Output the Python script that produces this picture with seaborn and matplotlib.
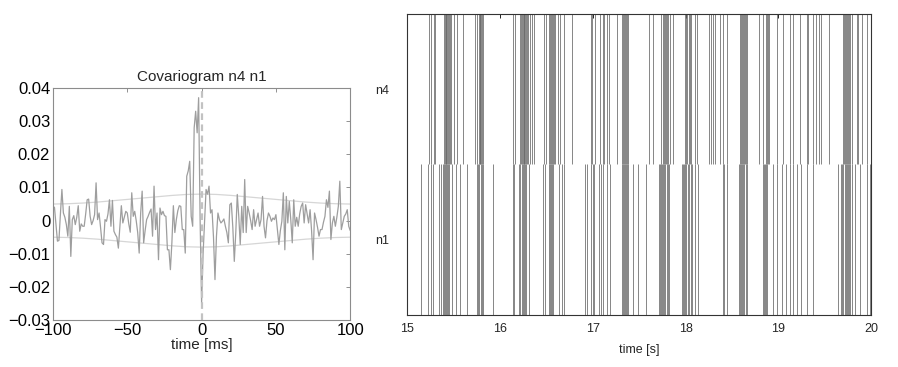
import numpy as np
import pandas as pd
import matplotlib
matplotlib.use("Agg")
import matplotlib.pyplot as plt
import seaborn as sns

# ---------------- data ----------------
lag_ms = list(range(-100, 101))
cov_values = [
    0.0043, 0.0040, -0.0010, -0.0062, -0.0060, 0.0020, 0.0094, 0.0023, 0.0010, -0.0012,
    -0.0047, 0.0043, -0.0108, 0.0003, 0.0015, -0.0012, 0.0010, 0.0045, -0.0032, -0.0010,
    -0.0017, -0.0017, 0.0020, 0.0063, 0.0065, 0.0013, -0.0012, 0.0000, 0.0018, 0.0114,
    0.0003, 0.0023, -0.0020, -0.0067, -0.0072, 0.0003, -0.0002, 0.0020, 0.0063, -0.0017,
    0.0061, -0.0032, -0.0042, -0.0050, -0.0083, -0.0017, 0.0045, -0.0007, 0.0010, 0.0028,
    0.0023, -0.0010, -0.0035, 0.0084, 0.0013, 0.0028, 0.0000, -0.0036, -0.0098, 0.0023,
    0.0089, -0.0067, -0.0030, 0.0003, 0.0013, 0.0025, 0.0035, -0.0047, 0.0104, -0.0027,
    0.0023, -0.0118, 0.0038, 0.0018, 0.0028, 0.0015, 0.0013, -0.0088, -0.0088, -0.0148,
    -0.0067, 0.0045, -0.0036, 0.0003, 0.0030, 0.0045, 0.0043, -0.0027, -0.0027, -0.0098,
    0.0134, 0.0150, 0.0179, 0.0013, -0.0017, 0.0280, 0.0330, 0.0265, 0.0371, 0.0003,
    -0.0249,
    -0.0100, 0.0000, 0.0094, 0.0080, 0.0104, 0.0023, 0.0033, -0.0050, -0.0178, -0.0047,
    0.0023, 0.0003, -0.0007, -0.0002, 0.0005, -0.0017, -0.0036, -0.0067, 0.0048, 0.0053,
    -0.0020, -0.0123, -0.0036, 0.0079, 0.0013, -0.0072, 0.0043, -0.0036, 0.0124, -0.0036,
    0.0043, 0.0023, 0.0000, -0.0027, 0.0033, -0.0017, 0.0003, 0.0023, -0.0017, 0.0003,
    0.0073, -0.0017, -0.0052, 0.0000, 0.0023, 0.0013, -0.0002, 0.0008, 0.0003, 0.0018,
    -0.0027, -0.0072, -0.0030, -0.0002, 0.0084, -0.0088, 0.0073, -0.0007, 0.0058, 0.0003,
    -0.0067, 0.0063, -0.0017, 0.0010, -0.0017, 0.0020, 0.0043, 0.0053, -0.0007, 0.0048,
    0.0020, -0.0007, 0.0033, -0.0030, -0.0118, 0.0023, 0.0003, -0.0020, -0.0047, -0.0027,
    -0.0027, -0.0005, 0.0013, 0.0063, 0.0040, 0.0089, -0.0057, -0.0007, 0.0013, -0.0017,
    0.0010, 0.0043, 0.0119, -0.0027, -0.0007, 0.0013, 0.0020, 0.0033, -0.0017, -0.0030,
]

band_lag = [-100, -90, -80, -70, -60, -50, -40, -30, -20, -10, 0,
            10, 20, 30, 40, 50, 60, 70, 80, 90, 100]
band_upper = [0.0050, 0.0051, 0.0053, 0.0056, 0.0060, 0.0064, 0.0068, 0.0072, 0.0076, 0.0079, 0.0080,
              0.0079, 0.0076, 0.0072, 0.0068, 0.0064, 0.0060, 0.0056, 0.0053, 0.0051, 0.0050]
band_lower = [-0.0050, -0.0051, -0.0053, -0.0056, -0.0060, -0.0064, -0.0068, -0.0072, -0.0076, -0.0079, -0.0080,
              -0.0079, -0.0076, -0.0072, -0.0068, -0.0064, -0.0060, -0.0056, -0.0053, -0.0051, -0.0050]

cov_xticks = [-100, -50, 0, 50, 100]
cov_yticks = [-0.03, -0.02, -0.01, 0, 0.01, 0.02, 0.03, 0.04]
cov_yticklabels = ["\u22120.03", "\u22120.02", "\u22120.01", "0", "0.01", "0.02", "0.03", "0.04"]
cov_xticklabels = ["\u2212100", "\u221250", "0", "50", "100"]

n4_spikes = [
    15.237, 15.252, 15.284, 15.302,
    15.400, 15.408, 15.415, 15.423, 15.432, 15.441, 15.450, 15.458,
    15.468, 15.504, 15.532, 15.604, 15.730, 15.748,
    15.772, 15.780, 15.788, 15.796, 15.805, 15.814,
    16.137, 16.158,
    16.220, 16.230, 16.240, 16.248, 16.256, 16.264, 16.272, 16.282, 16.292, 16.302,
    16.324, 16.345, 16.367, 16.475, 16.496,
    16.532, 16.542, 16.552, 16.562, 16.574, 16.584, 16.596,
    16.625, 16.650, 16.695, 16.775,
    16.978, 16.995, 17.025, 17.078, 17.108, 17.121, 17.157, 17.180, 17.259,
    17.318, 17.328, 17.338, 17.348, 17.358, 17.368, 17.378,
    17.605, 17.653,
    17.740, 17.752, 17.764, 17.776, 17.788, 17.800, 17.812, 17.830, 17.868,
    17.996, 18.008, 18.020, 18.032, 18.046, 18.060, 18.102, 18.127,
    18.257, 18.275, 18.293, 18.318, 18.372, 18.408, 18.451,
    18.582, 18.594, 18.606, 18.618, 18.630, 18.642, 18.655, 18.667,
    18.796, 18.832,
    18.868, 18.880, 18.892, 18.905,
    18.983, 19.047, 19.126, 19.155, 19.234, 19.306, 19.324, 19.371, 19.407, 19.436, 19.457, 19.551,
    19.702, 19.712, 19.722, 19.732, 19.742, 19.752, 19.762, 19.775, 19.790,
    19.845, 19.863, 19.900, 19.953,
]
n1_spikes = [
    15.144, 15.227, 15.252, 15.281, 15.345, 15.360,
    15.390, 15.400, 15.410, 15.420, 15.430, 15.440, 15.450,
    15.478, 15.525, 15.568, 15.647,
    15.750, 15.762, 15.775, 15.790, 15.805, 15.818,
    15.921, 16.137, 16.151,
    16.210, 16.220, 16.232, 16.244, 16.256, 16.268, 16.280,
    16.317, 16.468, 16.486,
    16.525, 16.537, 16.550, 16.562, 16.575,
    16.640, 16.665, 16.691,
    16.917, 16.942, 16.978, 17.000, 17.014,
    17.065, 17.086, 17.108, 17.157, 17.187,
    17.312, 17.322, 17.334, 17.346, 17.358, 17.370, 17.382,
    17.430, 17.490, 17.577,
    17.710, 17.722, 17.734, 17.746, 17.758, 17.770, 17.782, 17.796, 17.812, 17.825,
    17.960, 17.972, 17.984, 17.996, 18.010, 18.024, 18.040, 18.055, 18.066,
    18.102, 18.138,
    18.400, 18.420, 18.451,
    18.572, 18.584, 18.596, 18.608, 18.620, 18.634, 18.648, 18.662,
    18.832, 18.845, 18.858, 18.870, 18.882,
    18.947, 18.990, 19.037, 19.083, 19.126, 19.162, 19.206, 19.241, 19.306, 19.378,
    19.648, 19.673,
    19.690, 19.702, 19.714, 19.726, 19.738, 19.750, 19.762, 19.776, 19.790,
    19.827, 19.881, 19.953, 19.990,
]
raster_names = ["n1", "n4"]
raster_xticks = [15, 16, 17, 18, 19, 20]

# ---------------- style ----------------
sns.set_theme(style="white")
plt.rcParams["font.family"] = ["Liberation Sans", "DejaVu Sans"]

fig = plt.figure(figsize=(8.98, 3.67), dpi=100)

# ---------------- left: covariogram ----------------
ax1 = fig.add_axes([0.059, 0.128, 0.331, 0.632])
cov_df = pd.DataFrame({"lag": lag_ms, "cov": cov_values})
band_df = pd.DataFrame({"lag": band_lag, "upper": band_upper, "lower": band_lower})

sns.lineplot(data=band_df, x="lag", y="upper", ax=ax1, color="0.84", lw=0.9,
             estimator=None, sort=False)
sns.lineplot(data=band_df, x="lag", y="lower", ax=ax1, color="0.84", lw=0.9,
             estimator=None, sort=False)
sns.lineplot(data=cov_df, x="lag", y="cov", ax=ax1, color="0.62", lw=0.9,
             estimator=None, sort=False)
ax1.axvline(0, color="0.76", lw=1.6, ls=(0, (3, 2)))

ax1.set_xlim(-100, 100)
ax1.set_ylim(-0.03, 0.04)
ax1.set_xticks(cov_xticks)
ax1.set_xticklabels(cov_xticklabels)
ax1.set_yticks(cov_yticks)
ax1.set_yticklabels(cov_yticklabels)
ax1.tick_params(direction="in", length=3, width=0.6, color="0.5",
                labelsize=12, top=True, right=True, pad=2,
                labelcolor="black")
for s in ax1.spines.values():
    s.set_color("0.55")
    s.set_linewidth(0.8)
ax1.set_xlabel("time [ms]", fontsize=11, labelpad=0)
ax1.set_ylabel("")
ax1.set_title("Covariogram n4 n1", fontsize=11, pad=5)

# ---------------- right: raster ----------------
ax2 = fig.add_axes([0.4535, 0.142, 0.5165, 0.820])
ax2.vlines(n1_spikes, 0, 1, color="0.4", lw=0.55)
ax2.vlines(n4_spikes, 1, 2, color="0.4", lw=0.55)
ax2.set_xlim(15, 20)
ax2.set_ylim(0, 2)
ax2.set_xticks(raster_xticks)
ax2.set_yticks([0.5, 1.5])
ax2.set_yticklabels(raster_names)
ax2.tick_params(axis="x", direction="in", length=3, width=0.6, top=True,
                labelsize=9, pad=6, color="black")
ax2.tick_params(axis="y", length=0, labelsize=9, pad=13)
for s in ax2.spines.values():
    s.set_color("0.2")
    s.set_linewidth(0.8)
ax2.set_xlabel("time [s]", fontsize=9, labelpad=6)

fig.savefig("out.png", dpi=100)
